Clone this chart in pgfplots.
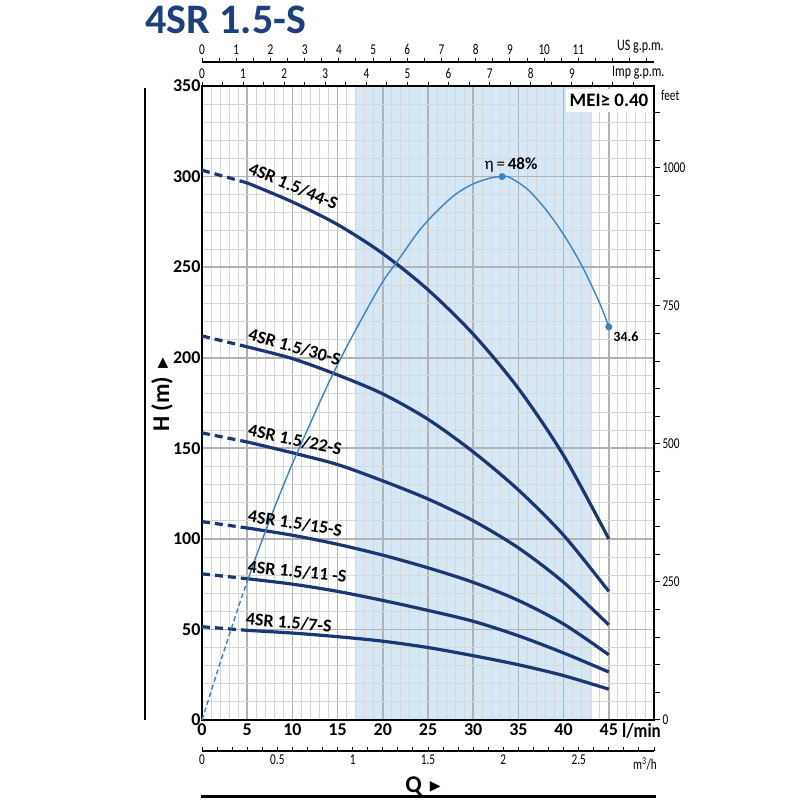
\documentclass[border=0pt]{standalone}
\usepackage{fontspec}
\setmainfont{Carlito}
\newfontfamily\cond[FakeStretch=0.75]{Carlito}
\newfontfamily\condb[FakeStretch=0.85]{Carlito}
\newfontfamily\dejavu{DejaVu Sans}
\usepackage{pgfplots}
\pgfplotsset{compat=1.18}
\definecolor{navy}{RGB}{26,54,116}
\definecolor{effblue}{RGB}{58,132,198}
\definecolor{shadeblue}{RGB}{214,232,246}
\definecolor{titleblue}{RGB}{28,64,128}
\definecolor{gmin}{RGB}{215,215,215}
\definecolor{gmaj}{RGB}{178,178,178}
\pgfplotsset{pump/.style={navy, line width=3.2pt, smooth, tension=0.5},
  pumpd/.style={navy, line width=3.2pt, dash pattern=on 8pt off 5pt}}
\tikzset{lab/.style={anchor=base west, inner sep=0pt, font=\fontsize{18}{18}\selectfont\bfseries}}
\newcommand{\tri}{\raisebox{2.5pt}{\dejavu\fontsize{14}{14}\selectfont ▶}}
\begin{document}
\begin{tikzpicture}[x=1pt,y=1pt]
\path[use as bounding box] (0,0) rectangle (800,800);
% shading
\begin{axis}[at={(202pt,80pt)},anchor=south west,scale only axis,width=452pt,height=634pt,
  xmin=0,xmax=50,ymin=0,ymax=350,hide axis]
\fill[shadeblue] (axis cs:17,0) rectangle (axis cs:43.1,350);
\end{axis}
% main
\begin{axis}[at={(202pt,80pt)},anchor=south west,scale only axis,width=452pt,height=634pt,
  xmin=0,xmax=50,ymin=0,ymax=350,clip=false,
  xtick={0,5,...,45}, xticklabels={0,5,10,15,20,25,30,35,40,45},
  ytick={0,50,...,350}, yticklabels={0,50,100,150,200,250,300,350},
  minor xtick={1,...,49}, minor ytick={10,20,...,340},
  grid=both,
  minor grid style={draw=gmin,line width=0.9pt},
  major grid style={draw=gmaj,line width=1.6pt},
  major tick length=0pt, minor tick length=0pt,
  axis line style={line width=2.5pt},
  tick label style={font=\fontsize{18}{18}\selectfont\bfseries},
  yticklabel style={xshift=2pt}]
% pump curves
\addplot[pumpd] coordinates {(0,303.5)(5,296.5)};
\addplot[pump] coordinates {(5,296.5)(10,286)(15,273.5)(20,257.5)(25,237.5)(30,213)(35,183)(40,146)(45,100)};
\addplot[pumpd] coordinates {(0,212)(5,206)};
\addplot[pump] coordinates {(5,206)(10,199.5)(15,190.5)(20,180)(25,166)(30,148)(35,127)(40,102)(45,71)};
\addplot[pumpd] coordinates {(0,158.5)(5,153.5)};
\addplot[pump] coordinates {(5,153.5)(10,147.5)(15,141)(20,132)(25,122)(30,110)(35,95)(40,76)(45,52.5)};
\addplot[pumpd] coordinates {(0,109.5)(5,106)};
\addplot[pump] coordinates {(5,106)(10,102)(15,97)(20,91)(25,84)(30,76)(35,66)(40,53)(45,36)};
\addplot[pumpd] coordinates {(0,80.7)(5,78)};
\addplot[pump] coordinates {(5,78)(10,75)(15,71)(20,66)(25,60.5)(30,54.5)(35,46.5)(40,37)(45,26.5)};
\addplot[pumpd] coordinates {(0,51.5)(5,49.5)};
\addplot[pump] coordinates {(5,49.5)(10,48)(15,46)(20,43.5)(25,40)(30,35.5)(35,30.5)(40,24.5)(45,17)};
% efficiency
\addplot[effblue, line width=1.4pt, dash pattern=on 5pt off 3pt] coordinates {(0,0)(2,31.5)(4,62)(5,76.5)};
\addplot[effblue, line width=1.4pt, smooth] coordinates {(5,76.5)(6,90.5)(8,117)(10,141.5)(12,164)(14,186)(16,206)(18,224.5)(20,242)(22,256)(24,270)(26,281)(28,290)(30,296)(32,299.3)(33.2,300)(34,299.6)(36,293)(38,282)(40,268)(42,251)(44,230)(45,217)};
\addplot[only marks, mark=*, mark size=3.3pt, effblue] coordinates {(33.2,300)(45,217)};
% labels
\node[lab, rotate=-23] at (axis cs:5.0,302) {4SR 1.5/44-S};
\node[lab, rotate=-16] at (axis cs:5.0,210) {4SR 1.5/30-S};
\node[lab, rotate=-12] at (axis cs:5.0,157) {4SR 1.5/22-S};
\node[lab, rotate=-9] at (axis cs:5.0,109.5) {4SR 1.5/15-S};
\node[lab, rotate=-6] at (axis cs:5.0,81.5) {4SR 1.5/11 -S};
\node[lab, rotate=-5] at (axis cs:4.8,52.5) {4SR 1.5/7-S};
\end{axis}
% MEI box
\fill[white] (566,688) rectangle (653,711);
\node[font=\fontsize{19}{19}\selectfont\bfseries] at (609,700) {MEI≥ 0.40};
\node[font=\fontsize{17}{17}\selectfont] at (511,635) {η\,=\,\textbf{48\%}};
\node[font=\fontsize{14}{14}\selectfont\bfseries] at (626,463) {34.6};
% right feet axis
\begin{axis}[at={(202pt,80pt)},anchor=south west,scale only axis,width=452pt,height=634pt,
  xmin=0,xmax=50,ymin=0,ymax=1148.29,
  axis x line=none, axis y line*=right,
  ytick={0,250,500,750,1000}, yticklabels={0,250,500,750,1000},
  minor ytick={50,100,...,1100},
  tick align=outside, major tick length=6pt, minor tick length=6pt,
  tick style={line width=1pt, black},
  axis line style={line width=2.5pt},
  yticklabel style={font=\cond\fontsize{15}{15}\selectfont, xshift=-1pt}]
\end{axis}
% Imp gpm axis (top of frame)
\begin{axis}[at={(202pt,80pt)},anchor=south west,scale only axis,width=452pt,height=634pt,
  xmin=0,xmax=10.9985,ymin=0,ymax=1,
  axis y line=none, axis x line*=top,
  xtick={0,1,2,3,4,5,6,7,8,9,10}, xticklabels={0,1,2,3,4,5,6,7,8,9,},
  minor xtick={0.5,1.5,2.5,3.5,4.5,5.5,6.5,7.5,8.5,9.5,10.5},
  tick align=outside, major tick length=4pt, minor tick length=4pt,
  tick style={line width=1pt, black},
  axis line style={line width=2.5pt},
  xticklabel style={font=\cond\fontsize{15}{15}\selectfont}]
\end{axis}
% US gpm axis
\begin{axis}[at={(202pt,738pt)},anchor=north west,scale only axis,width=452pt,height=20pt,
  xmin=0,xmax=13.2086,ymin=0,ymax=1,
  axis y line=none, axis x line*=top,
  xtick={0,1,2,3,4,5,6,7,8,9,10,11,12,13}, xticklabels={0,1,2,3,4,5,6,7,8,9,10,11,,},
  minor xtick={0.5,1.5,2.5,3.5,4.5,5.5,6.5,7.5,8.5,9.5,10.5,11.5,12.5},
  tick align=outside, major tick length=4pt, minor tick length=4pt,
  tick style={line width=1pt, black},
  axis line style={line width=1.3pt},
  xticklabel style={font=\cond\fontsize{15}{15}\selectfont}]
\end{axis}
% m3/h axis
\begin{axis}[at={(202pt,49pt)},anchor=south west,scale only axis,width=452pt,height=20pt,
  xmin=0,xmax=3,ymin=0,ymax=1,
  axis y line=none, axis x line*=bottom,
  xtick={0,0.5,1,1.5,2,2.5}, xticklabels={0,0.5,1,1.5,2,2.5},
  minor xtick={0.1,0.2,0.3,0.4,0.6,0.7,0.8,0.9,1.1,1.2,1.3,1.4,1.6,1.7,1.8,1.9,2.1,2.2,2.3,2.4,2.6,2.7,2.8,2.9,3.0},
  tick align=inside, major tick length=4pt, minor tick length=4pt,
  tick style={line width=1pt, black},
  axis line style={line width=1.3pt},
  xticklabel style={font=\cond\fontsize{15}{15}\selectfont}]
\end{axis}
% title and other texts
\node[anchor=base west, inner sep=0, font=\fontsize{42}{42}\selectfont\bfseries, text=titleblue] at (145,766) {4SR 1.5-S};
\node[anchor=west, inner sep=0, font=\cond\fontsize{16}{16}\selectfont] at (617,753) {US g.p.m.};
\node[anchor=west, inner sep=0, font=\cond\fontsize{16}{16}\selectfont] at (612,727) {Imp g.p.m.};
\node[anchor=west, inner sep=0, font=\cond\fontsize{15}{15}\selectfont] at (661,705) {feet};
\node[anchor=west, inner sep=0, font=\condb\fontsize{20}{20}\selectfont\bfseries] at (622,69) {l/min};
\node[anchor=east, inner sep=0, font=\cond\fontsize{15}{15}\selectfont] at (657,36) {m\textsuperscript{3}/h};
\node[font=\fontsize{24}{24}\selectfont\bfseries] at (423,13.5) {Q\,\,\tri};
\node[rotate=90, font=\fontsize{24}{24}\selectfont\bfseries] at (162,405) {H (m)\,\,\tri};
\draw[line width=2.5pt] (145,80) -- (145,712);
\draw[line width=3pt] (201,3) -- (656,3);
\end{tikzpicture}
\end{document}
